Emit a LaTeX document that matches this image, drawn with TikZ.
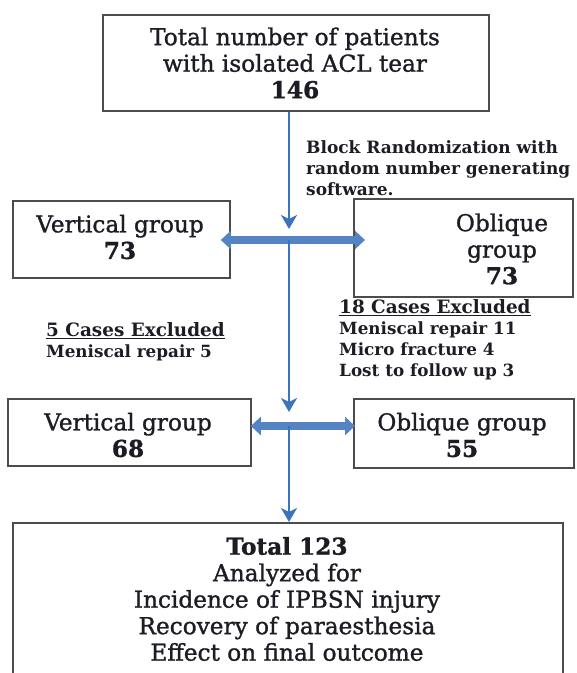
\documentclass[tikz,border=0pt]{standalone}
\usepackage{fontspec}
\setmainfont{DejaVu Serif}
\newfontfamily\heavyfont{DejaVu Serif}[FakeBold=1.2]
\usetikzlibrary{arrows.meta}
\definecolor{arrowblue}{HTML}{3D72BC}
\definecolor{dblblue}{HTML}{5484C4}
\definecolor{boxgray}{HTML}{4C4C4C}
\definecolor{txt}{HTML}{1C1C24}
\begin{document}
\begin{tikzpicture}[x=1pt,y=-1pt,
  frame/.style={draw=boxgray,line width=1.8pt,fill=white,inner sep=0pt,anchor=north west},
  big/.style={text=txt,align=center,inner sep=0pt,font=\heavyfont\fontsize{23.2}{26.5}\selectfont},
  small/.style={text=txt,align=left,inner sep=0pt,font=\bfseries\fontsize{17}{20.7}\selectfont},
  excl/.style={text=txt,align=left,inner sep=0pt,font=\bfseries\fontsize{18.4}{21}\selectfont},
  down/.style={draw=arrowblue,line width=2.8pt,-{Stealth[length=14pt,width=16pt,inset=4pt]}},
  dbl/.style={draw=dblblue,line width=8.5pt,{Triangle[length=10pt,width=18pt]}-{Triangle[length=10pt,width=18pt]}}
]
\useasboundingbox (0,0) rectangle (577,673);

% boxes
\node[frame,minimum width=386pt,minimum height=96pt] (top) at (102,14) {};
\node[big] (toptxt) at (295,63) {Total number of patients\\with isolated ACL tear\\\textbf{146}};

\node[frame,minimum width=217pt,minimum height=77pt] (vg1) at (12,200) {};
\node[big] (vg1txt) at (120,237) {Vertical group\\\textbf{73}};

\node[frame,minimum width=219pt,minimum height=98pt] (ob1) at (353,198) {};
\node[big] (ob1txt) at (502,249) {Oblique\\group\\\textbf{73}};

\node[frame,minimum width=243pt,minimum height=67pt] (vg2) at (7,398) {};
\node[big] (vg2txt) at (128,435) {Vertical group\\\textbf{68}};

\node[frame,minimum width=220pt,minimum height=69pt] (ob2) at (353,398) {};
\node[big] (ob2txt) at (462,435) {Oblique group\\\textbf{55}};

\node[frame,minimum width=550pt,minimum height=180pt] (bot) at (12,522) {};
\node[big] (bottxt) at (287,599) {\textbf{Total 123}\\Analyzed for\\Incidence of IPBSN injury\\Recovery of paraesthesia\\Effect on final outcome};

% side texts
\node[small,anchor=west] (rand) at (306,168) {Block Randomization with\\random number generating\\software.};
\node[excl,anchor=west] (ex5) at (46,342) {\underline{5 Cases Excluded}\\\fontsize{16.8}{21}\selectfont Meniscal repair 5};
\node[excl,anchor=west] (ex18) at (339,340) {\underline{18 Cases Excluded}\\\fontsize{16.8}{21}\selectfont Meniscal repair 11\\\fontsize{16.8}{21}\selectfont Micro fracture 4\\\fontsize{16.8}{21}\selectfont Lost to follow up 3};

% junctions
\coordinate (j1) at (289,240);
\coordinate (j2) at (289,426);

% connectors
\draw[down] (top.south -| j1) -- ([yshift=11]j1);
\draw[dbl] ([xshift=-10]vg1.east |- j1) -- ([xshift=12]ob1.west |- j1);
\draw[down] (j1) -- ([yshift=14]j2);
\draw[dbl] ([xshift=-1]vg2.east |- j2) -- ([xshift=2]ob2.west |- j2);
\draw[down] (j2) -- (bot.north -| j2);
\end{tikzpicture}
\end{document}
